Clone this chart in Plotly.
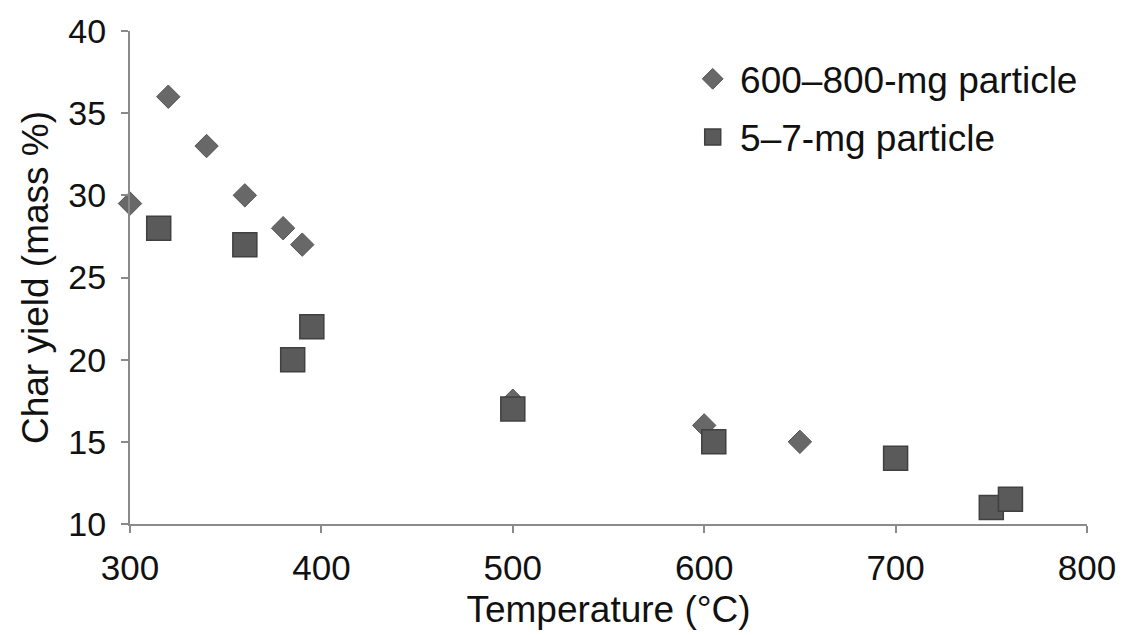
import plotly.graph_objects as go

# Data
large_temp = [300, 320, 340, 360, 380, 390, 500, 600, 650]
large_yield = [29.5, 36, 33, 30, 28, 27, 17.5, 16, 15]
small_temp = [315, 360, 385, 395, 500, 605, 700, 750, 760]
small_yield = [28, 27, 20, 22, 17, 15, 14, 11, 11.5]
series_names = ["600\u2013800-mg particle", "5\u20137-mg particle"]
x_ticks = [300, 400, 500, 600, 700, 800]
y_ticks = [10, 15, 20, 25, 30, 35, 40]

FONT = "Arial, Liberation Sans, sans-serif"
AXIS_COLOR = "#8a8a8a"

fig = go.Figure()
fig.add_trace(go.Scatter(
    x=large_temp, y=large_yield, mode="markers", name="\u2009" + series_names[0],
    legendgroup="a",
    marker=dict(symbol="diamond", size=18, color="#686868",
                line=dict(color="#555555", width=1)),
    cliponaxis=False,
))
fig.add_trace(go.Scatter(
    x=small_temp, y=small_yield, mode="markers", name="\u2009" + series_names[1],
    legendgroup="b",
    marker=dict(symbol="square", size=24, color="#5a5a5a",
                line=dict(color="#404040", width=1.5)),
    cliponaxis=False,
))

fig.update_layout(
    width=1129, height=635,
    margin=dict(l=130, r=42, t=28, b=109),
    plot_bgcolor="white", paper_bgcolor="white",
    font=dict(family=FONT, color="#111111"),
    showlegend=True,
    legend=dict(
        x=0.588, y=0.965, xanchor="left", yanchor="top",
        font=dict(size=37, family=FONT, color="#111111"),
        bgcolor="rgba(0,0,0,0)",
        traceorder="grouped", tracegroupgap=7,
        itemsizing="trace",
    ),
    xaxis=dict(
        range=[300, 800], tickvals=x_ticks, ticktext=[str(v) for v in x_ticks],
        showgrid=False, zeroline=False,
        showline=True, linecolor=AXIS_COLOR, linewidth=2,
        ticks="outside", ticklen=7, tickwidth=2, tickcolor=AXIS_COLOR,
        tickfont=dict(size=35, family=FONT, color="#111111"),
        ticklabelstandoff=5,
        title=dict(text="Temperature (\u00b0C)", font=dict(size=37, family=FONT, color="#111111"),
                   standoff=10),
    ),
    yaxis=dict(
        range=[10, 40], tickvals=y_ticks, ticktext=[str(v) for v in y_ticks],
        showgrid=False, zeroline=False,
        showline=True, linecolor=AXIS_COLOR, linewidth=2,
        ticks="outside", ticklen=7, tickwidth=2, tickcolor=AXIS_COLOR,
        tickfont=dict(size=34, family=FONT, color="#111111"),
        ticklabelstandoff=8,
        title=dict(text="Char yield (mass %)", font=dict(size=37, family=FONT, color="#111111"),
                   standoff=8),
    ),
)

fig.write_html("out.html")
